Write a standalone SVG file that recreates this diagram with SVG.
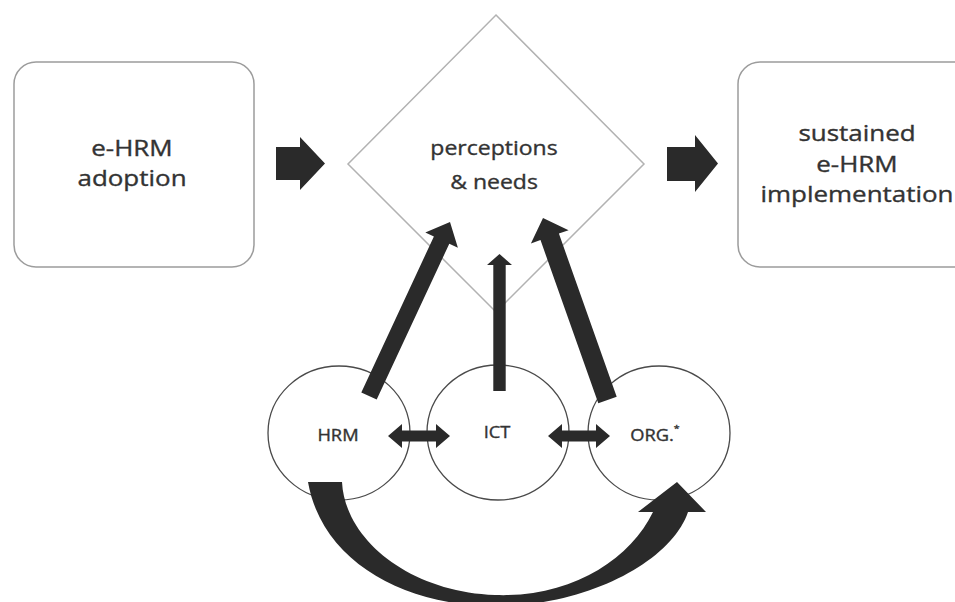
<svg xmlns="http://www.w3.org/2000/svg" width="955" height="602" viewBox="0 0 955 602">
  <style>
    .box { fill: #ffffff; stroke: #9c9c9c; stroke-width: 1.5; }
    .dia { fill: #ffffff; stroke: #b2b2b2; stroke-width: 1.5; }
    .circ { fill: #ffffff; stroke: #4a4a4a; stroke-width: 1.3; }
    .arr { fill: #2a2a2a; stroke: none; }
    .t { font-family: "Open Sans", "Liberation Sans", sans-serif; fill: #333333; stroke: #333333; stroke-width: 0.35; text-anchor: middle; }
    .big { font-size: 22px; }
    .mid { font-size: 19.5px; }
    .sm { font-size: 15.5px; }
  </style>
  <rect x="0" y="0" width="955" height="602" fill="#ffffff"/>

  <g id="node-adoption">
    <rect class="box" x="14" y="62" width="240" height="205" rx="22" ry="22"/>
    <text class="t big" transform="translate(132,156) scale(1.18,1)">e-HRM</text>
    <text class="t big" transform="translate(132,186) scale(1.18,1)">adoption</text>
  </g>

  <g id="node-perceptions">
    <polygon class="dia" points="496,15 644,164 496,312 348,164"/>
    <text class="t mid" transform="translate(494,155) scale(1.18,1)">perceptions</text>
    <text class="t mid" transform="translate(494,189) scale(1.18,1)">&amp; needs</text>
  </g>

  <g id="node-implementation">
    <rect class="box" x="738" y="62" width="242" height="205" rx="22" ry="22"/>
    <text class="t big" transform="translate(857,141) scale(1.18,1)">sustained</text>
    <text class="t big" transform="translate(857,171.5) scale(1.18,1)">e-HRM</text>
    <text class="t big" transform="translate(857,202) scale(1.18,1)">implementation</text>
  </g>

  <g id="node-hrm">
    <ellipse class="circ" cx="339" cy="433" rx="71" ry="67"/>
    <text class="t sm" transform="translate(338,441) scale(1.18,1)">HRM</text>
  </g>

  <g id="node-ict">
    <ellipse class="circ" cx="498" cy="432.5" rx="71" ry="67.5"/>
    <text class="t sm" transform="translate(497,438) scale(1.18,1)">ICT</text>
  </g>

  <g id="node-org">
    <ellipse class="circ" cx="659" cy="433" rx="71" ry="67"/>
    <text class="t sm" transform="translate(655,441) scale(1.18,1)">ORG.<tspan font-size="9" dy="-9">*</tspan></text>
  </g>

  <g id="connectors">
    <!-- adoption -> perceptions -->
    <polygon class="arr" points="276,147 300,147 300,137 325,163.5 300,190 300,180 276,180"/>
    <!-- perceptions -> implementation -->
    <polygon class="arr" points="667,147 695,147 695,135 718,163.5 695,192 695,181 667,181"/>
    <!-- HRM -> perceptions -->
    <polygon class="arr" points="361.3,392.4 433.9,236.5 425.3,232.5 450,222 457.9,247.7 449.3,243.7 376.7,399.6"/>
    <!-- ICT -> perceptions -->
    <polygon class="arr" points="493.3,391 493.3,265 487,265 499.5,254 512,265 505.7,265 505.7,391"/>
    <!-- ORG -> perceptions -->
    <polygon class="arr" points="598.3,403.3 540.5,240.1 530.9,243.5 543,218 568.6,230.2 558.9,233.6 616.7,396.7"/>
    <!-- HRM <-> ICT -->
    <polygon class="arr" points="388,436 402,424 402,430.5 436,430.5 436,424 450,436 436,448 436,441.5 402,441.5 402,448"/>
    <!-- ICT <-> ORG -->
    <polygon class="arr" points="548,436 562,424 562,430.5 596,430.5 596,424 610,436 596,448 596,441.5 562,441.5 562,448"/>
    <!-- HRM -> ORG curved -->
    <path class="arr" d="M308,482 L342,482 C345,540 410,592 495,595 C570,598 630,560 653,512 L638,512 L677,482 L706,512 L688,512 C672,560 590,606 495,606 C405,606 322,562 308,482 Z"/>
  </g>
</svg>
